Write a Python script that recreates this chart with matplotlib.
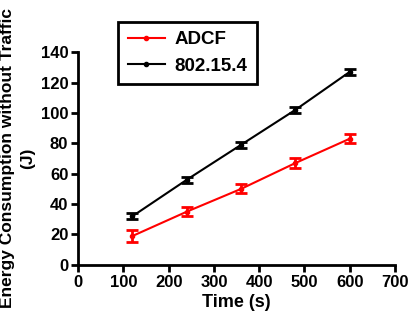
import matplotlib.pyplot as plt
from matplotlib.lines import Line2D

plt.rcParams['font.family'] = ['Liberation Sans', 'DejaVu Sans']
plt.rcParams['font.weight'] = 'bold'

time_s = [120, 240, 360, 480, 600]
adcf = [19, 35, 50, 67, 83]
adcf_err = [4, 3, 3, 3, 3]
ieee = [32, 56, 79, 102, 127]
ieee_err = [2, 2, 2, 2, 2]

fig = plt.figure(figsize=(4.11, 3.12), dpi=100)
ax = fig.add_axes([0.19, 0.151, 0.771, 0.682])

ax.errorbar(time_s, adcf, yerr=adcf_err, color='red', marker='o', markersize=3,
            linewidth=1.5, capsize=4, capthick=2, elinewidth=2)
ax.errorbar(time_s, ieee, yerr=ieee_err, color='black', marker='o', markersize=3,
            linewidth=1.5, capsize=4, capthick=2, elinewidth=2)

ax.set_xlim(0, 700)
ax.set_ylim(0, 140)
ax.set_xticks(range(0, 701, 100))
ax.set_yticks(range(0, 141, 20))
for s in ['top', 'right']:
    ax.spines[s].set_visible(False)
for s in ['left', 'bottom']:
    ax.spines[s].set_linewidth(2)
ax.tick_params(direction='out', width=2, length=5, labelsize=12, pad=2)

ax.set_xlabel('Time (s)', fontsize=13, fontweight='bold', labelpad=3)
ax.set_ylabel('Energy Consumption without Traffic\n(J)', fontsize=12.5,
              fontweight='bold', linespacing=1.45, labelpad=4)

handles = [Line2D([], [], color='red', marker='o', markersize=3, linewidth=1.5),
           Line2D([], [], color='black', marker='o', markersize=3, linewidth=1.5)]
leg = fig.legend(handles, ['ADCF', '802.15.4'], loc='upper left',
                 bbox_to_anchor=(0.265, 0.96), fontsize=13.5,
                 frameon=True, fancybox=False, edgecolor='black', framealpha=1,
                 handlelength=2.0, borderpad=0.5, labelspacing=0.5,
                 handletextpad=0.5)
leg.get_frame().set_linewidth(2)

fig.savefig('out.png', dpi=100)
